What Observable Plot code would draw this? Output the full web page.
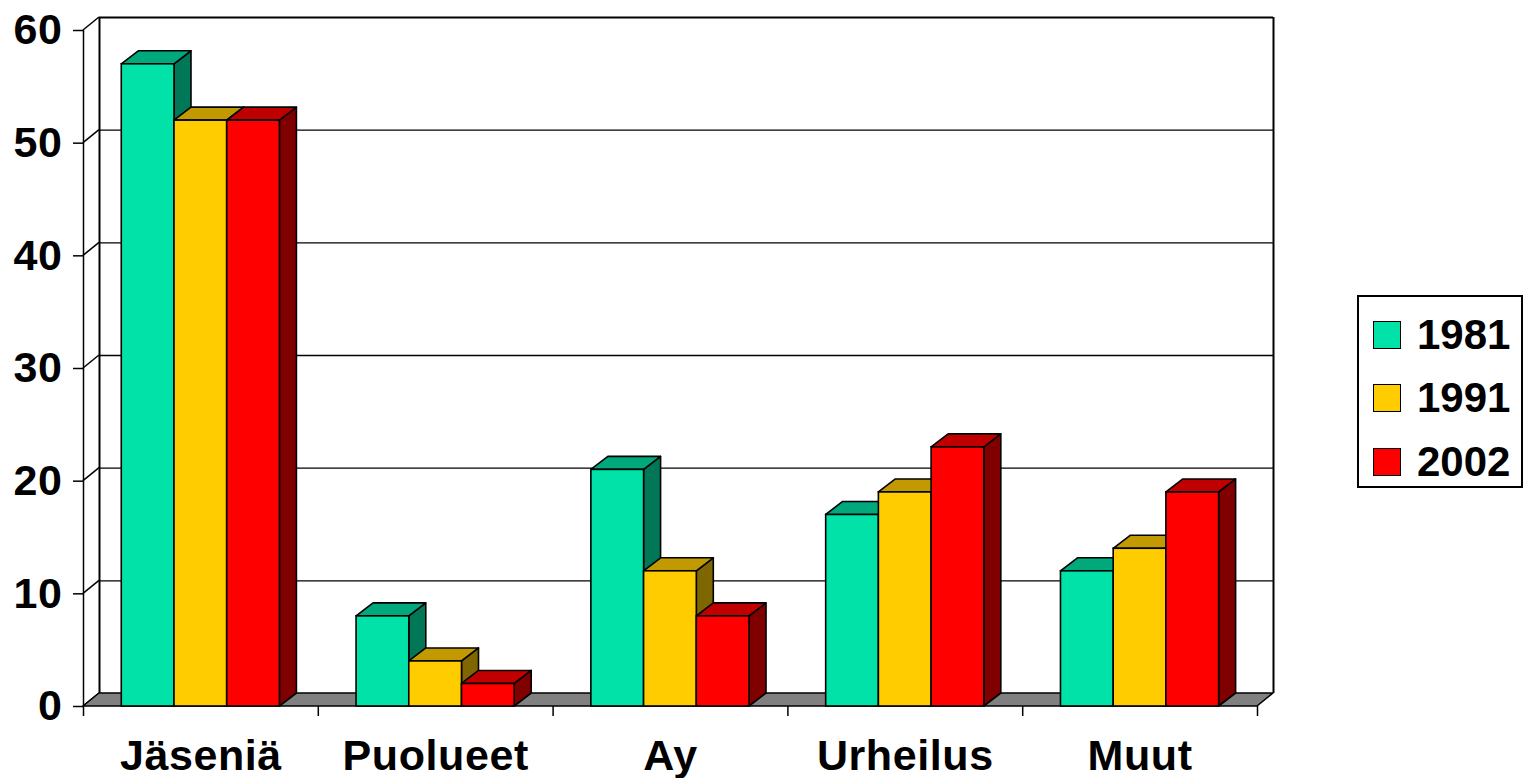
<!DOCTYPE html>
<html><head><meta charset="utf-8">
<script src="https://cdn.jsdelivr.net/npm/d3@7"></script>
<script src="https://cdn.jsdelivr.net/npm/@observablehq/plot@0.6"></script>
<style>
html,body{margin:0;padding:0;background:#fff;}
#wrap{position:relative;width:1526px;height:778px;font-family:"Liberation Sans",Arial,sans-serif;font-weight:bold;}
#legend{position:absolute;left:1357px;top:295px;width:166px;height:193px;box-sizing:border-box;border:2px solid #000;background:#fff;}
.row{position:absolute;left:14px;height:28px;display:flex;align-items:center;}
.sw{width:28px;height:28px;box-sizing:border-box;border:1.5px solid #000;margin-right:16px;}
.lab{font-size:42px;line-height:28px;}
</style></head><body><div id="wrap"></div>
<script>
const categories = ["Jäseniä","Puolueet","Ay","Urheilus","Muut"];
const years = ["1981","1991","2002"];
const v1981 = [57,8,21,17,12];
const v1991 = [52,4,12,19,14];
const v2002 = [52,2,8,23,19];
const yTicks = [0,10,20,30,40,50,60];
const frontColors = ["#00E2A8","#FFCC00","#FF0000"];
const topColors = ["#00A87C","#C09A00","#C00000"];
const sideColors = ["#007858","#806600","#800000"];

const series = [v1981, v1991, v2002];
const BAR = 0.2245, START = 0.163;
const rows = [];
categories.forEach((c, i) => series.forEach((vals, k) => {
  rows.push({cat: c, i, k, year: years[k], value: vals[i], x1: i + START + k * BAR, x2: i + START + (k + 1) * BAR});
}));

const WDX = 16, WDY = -13;   // wall depth in px
const BDX = 17, BDY = -13;   // bar depth in px

function pathD(pts){ return "M" + pts.map(p => p[0] + "," + p[1]).join("L") + "Z"; }

function walls(index, scales) {
  const {x, y} = scales;
  const g = d3.create("svg:g");
  for (const v of yTicks) {
    g.append("line").attr("x1", x(0)).attr("y1", y(v)).attr("x2", x(0) + WDX).attr("y2", y(v) + WDY)
      .attr("stroke", "#000").attr("stroke-width", 1.5);
  }
  g.append("path").attr("d", pathD([[x(0), y(0)], [x(5), y(0)], [x(5) + WDX, y(0) + WDY], [x(0) + WDX, y(0) + WDY]]))
    .attr("fill", "#808080").attr("stroke", "#000").attr("stroke-width", 1.5).attr("stroke-linejoin", "round");
  return g.node();
}

function barFaces(index, scales) {
  const {x, y} = scales;
  const g = d3.create("svg:g");
  const sides = g.append("g"), tops = g.append("g");
  for (const r of rows) {
    const a = x(r.x1), b = x(r.x2), t = y(r.value), z = y(0);
    sides.append("path").attr("d", pathD([[b, z], [b, t], [b + BDX, t + BDY], [b + BDX, z + BDY]]))
      .attr("fill", sideColors[r.k]).attr("stroke", "#000").attr("stroke-width", 1.6).attr("stroke-linejoin", "round");
    tops.append("path").attr("d", pathD([[a, t], [b, t], [b + BDX, t + BDY], [a + BDX, t + BDY]]))
      .attr("fill", topColors[r.k]).attr("stroke", "#000").attr("stroke-width", 1.6).attr("stroke-linejoin", "round");
  }
  return g.node();
}

const chart = Plot.plot({
  width: 1526, height: 778,
  marginLeft: 83, marginRight: 269, marginTop: 30, marginBottom: 72,
  x: {domain: [0, 5], axis: null},
  y: {domain: [0, 60], axis: null},
  color: {domain: years, range: frontColors},
  style: {fontFamily: "'Liberation Sans', Arial, sans-serif", fontWeight: "bold", fontSize: "43px", letterSpacing: "0.6px", overflow: "visible", background: "transparent"},
  marks: [
    Plot.ruleY(yTicks.filter(v => v > 0 && v < 60), {x1: 0, x2: 5, dx: WDX, dy: WDY, stroke: "#000", strokeWidth: 1.3}),
    Plot.ruleY([60], {x1: 0, x2: 5, dx: WDX, dy: WDY, stroke: "#000", strokeWidth: 2.2}),
    Plot.ruleX([0, 5], {y1: 0, y2: 60, dx: WDX, dy: WDY, stroke: "#000", strokeWidth: 2}),
    Plot.ruleX([0], {y1: 0, y2: 60, stroke: "#000", strokeWidth: 1.5}),
    walls,
    barFaces,
    Plot.rect(rows, {x1: "x1", x2: "x2", y1: 0, y2: "value", fill: "year", stroke: "#000", strokeWidth: 1.6}),
    Plot.axisY(yTicks, {tickSize: 10, tickPadding: 11, fontSize: 43, stroke: "#000", strokeWidth: 1.5, label: null}),
    Plot.axisX(d3.range(6), {tickSize: 10, tickFormat: () => "", stroke: "#000", strokeWidth: 1.5, label: null}),
    Plot.text(categories, {x: (d, i) => i + 0.5, y: () => 0, text: d => d, lineAnchor: "top", dy: 33, fontSize: 43, fill: "#000"})
  ]
});

const wrap = document.getElementById("wrap");
wrap.appendChild(chart);
chart.style.position = "absolute"; chart.style.left = "0"; chart.style.top = "0";

const legend = document.createElement("div");
legend.id = "legend";
const rowTops = [24, 87, 151];
years.forEach((yr, k) => {
  const row = document.createElement("div");
  row.className = "row";
  row.style.top = rowTops[k] + "px";
  const sw = document.createElement("div");
  sw.className = "sw"; sw.style.background = frontColors[k];
  const lab = document.createElement("span");
  lab.className = "lab"; lab.textContent = yr;
  row.appendChild(sw); row.appendChild(lab);
  legend.appendChild(row);
});
wrap.appendChild(legend);
</script>
</body></html>
